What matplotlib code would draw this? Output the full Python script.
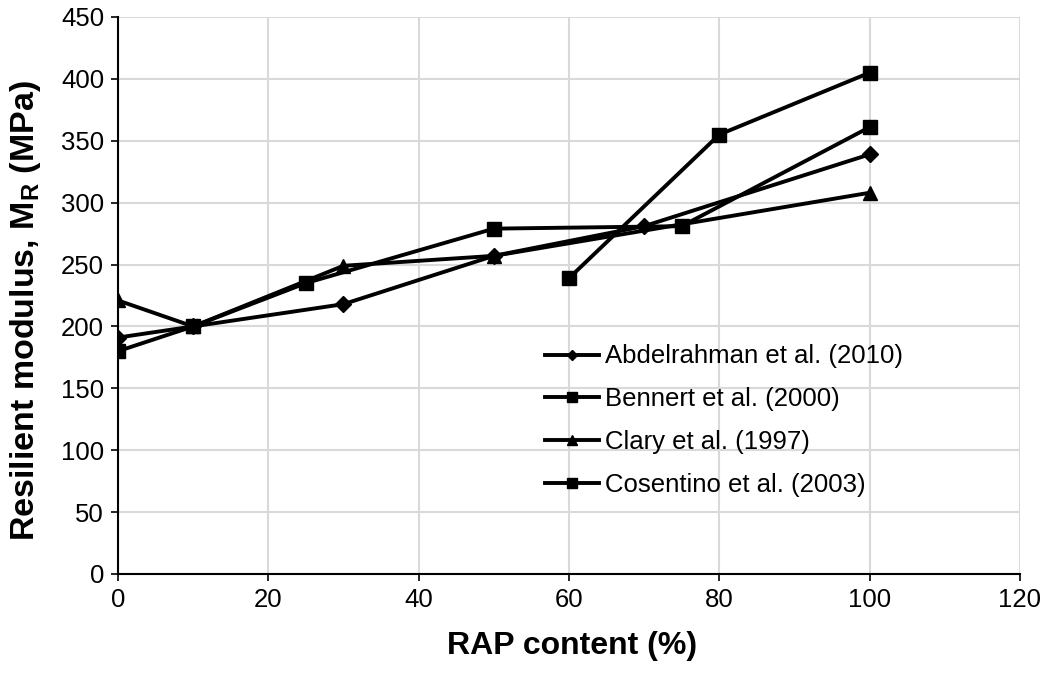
import numpy as np
import matplotlib.pyplot as plt

plt.rcParams['font.family'] = ['Liberation Sans', 'DejaVu Sans']

# RAP content (%) and resilient modulus (MPa) for each study
abdel_x = [0, 10, 30, 50, 70, 100]
abdel_y = [191, 200, 218, 257, 281, 339]

bennert_x = [0, 10, 25, 50, 75, 100]
bennert_y = [180, 200, 235, 279, 281, 361]

clary_x = [0, 10, 30, 50, 100]
clary_y = [221, 200, 249, 257, 308]

cosentino_x = [60, 80, 100]
cosentino_y = [239, 355, 405]

fig, ax = plt.subplots(figsize=(10.47, 6.74), dpi=100)
fig.subplots_adjust(left=0.1127, right=0.9742, top=0.9748, bottom=0.1484)

kw = dict(color='black', linewidth=2.8)
ax.plot(abdel_x, abdel_y, marker='D', markersize=8, label='Abdelrahman et al. (2010)', **kw)
ax.plot(bennert_x, bennert_y, marker='s', markersize=10, label='Bennert et al. (2000)', **kw)
ax.plot(clary_x, clary_y, marker='^', markersize=10, label='Clary et al. (1997)', **kw)
ax.plot(cosentino_x, cosentino_y, marker='s', markersize=10, label='Cosentino et al. (2003)', **kw)

ax.set_xlim(0, 120)
ax.set_ylim(0, 450)
ax.set_xticks(np.arange(0, 121, 20))
ax.set_yticks(np.arange(0, 451, 50))
ax.grid(True, color='#d9d9d9', linewidth=1.5)
ax.set_axisbelow(True)
for side in ['top', 'right']:
    ax.spines[side].set_visible(False)
for side in ['left', 'bottom']:
    ax.spines[side].set_linewidth(1.5)
ax.tick_params(labelsize=18.5, length=5, width=1.2, direction='out', pad=5)

ax.set_xlabel('RAP content (%)', fontsize=23, fontweight='bold')
ax.set_ylabel('Resilient modulus, M$_\\mathregular{R}$ (MPa)', fontsize=24.5, fontweight='bold')
ax.xaxis.set_label_coords(0.503, -0.102)
ax.yaxis.set_label_coords(-0.083, 0.472)

ax.legend(loc='upper left', bbox_to_anchor=(0.473, 0.412), borderaxespad=0, borderpad=0,
          frameon=False, fontsize=18.5, handlelength=2.1, handletextpad=0.25,
          markerscale=0.7, labelspacing=0.73)

fig.savefig('out.png', dpi=100)
